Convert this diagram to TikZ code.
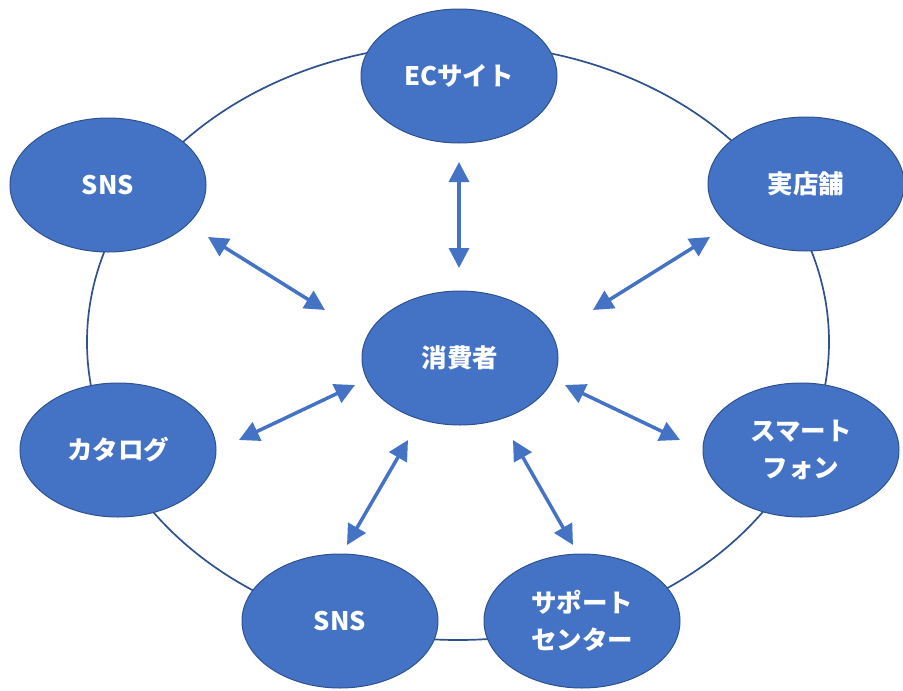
\documentclass[tikz,border=0pt]{standalone}
\usepackage{fontspec}
\setmainfont{Noto Sans CJK JP}
\usetikzlibrary{shapes.geometric,arrows.meta}
\definecolor{fillblue}{HTML}{4472C4}
\definecolor{edgeblue}{HTML}{2F528F}
\tikzset{
  bubble/.style={ellipse, fill=fillblue, draw=edgeblue, line width=1pt,
    minimum width=196pt, minimum height=134pt, inner sep=0pt,
    text=white, font=\fontsize{25.5}{37}\selectfont\bfseries, align=center},
  link/.style={draw=fillblue, line width=3.5pt,
    {Triangle[length=20pt,width=20pt]}-{Triangle[length=20pt,width=20pt]}},
  ring/.style={draw=edgeblue, line width=1.7pt}
}
\begin{document}
\begin{tikzpicture}[x=1pt,y=-1pt]
\useasboundingbox (0,0) rectangle (903,691);
\draw[ring] (458,342) ellipse [x radius=371, y radius=298];
\node[bubble] (ec) at (459,76) {ECサイト};
\node[bubble] (sns1) at (108,185) {SNS};
\node[bubble] (shop) at (806,184) {実店舗};
\node[bubble] (cons) at (460,358) {消費者};
\node[bubble] (cat) at (118,450) {カタログ};
\node[bubble] (phone) at (801,450) {スマート\\フォン};
\node[bubble] (sns2) at (340,621) {SNS};
\node[bubble] (sup) at (582,621) {サポート\\センター};
% arrow end points
\coordinate (a1) at (459,162); \coordinate (b1) at (459,268);
\coordinate (a2) at (208,237); \coordinate (b2) at (325,310);
\coordinate (a3) at (710,237); \coordinate (b3) at (593,310);
\coordinate (a4) at (239,440); \coordinate (b4) at (355,385);
\coordinate (a5) at (680,440); \coordinate (b5) at (565,385);
\coordinate (a6) at (347,545); \coordinate (b6) at (408,440);
\coordinate (a7) at (573,545); \coordinate (b7) at (513,440);
\draw[link] (a1) -- (b1);
\draw[link] (a2) -- (b2);
\draw[link] (a3) -- (b3);
\draw[link] (a4) -- (b4);
\draw[link] (a5) -- (b5);
\draw[link] (a6) -- (b6);
\draw[link] (a7) -- (b7);
\end{tikzpicture}
\end{document}
